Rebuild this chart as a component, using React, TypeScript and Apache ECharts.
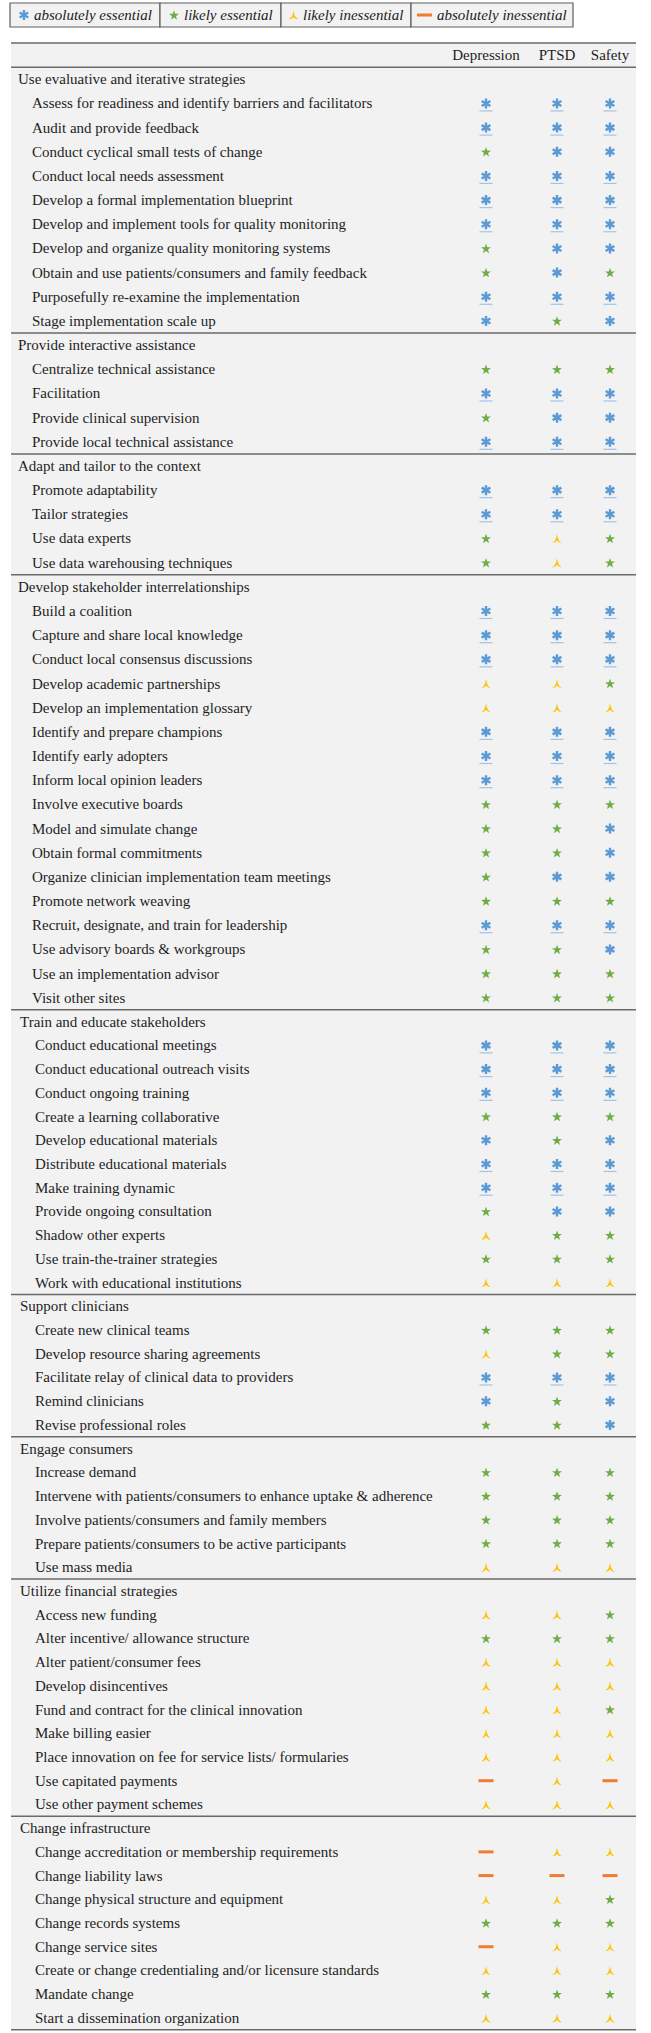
import React, { useEffect, useRef } from "react";
import * as echarts from "echarts";

// ---------- data ----------
const COLUMNS = ["Depression", "PTSD", "Safety"];
const RATING_NAMES = ["absolutely essential", "likely essential", "likely inessential", "absolutely inessential"];
const RATING_CODES = ["A", "L", "I", "X"];

const GROUP_NAMES = [
  "Use evaluative and iterative strategies",
  "Provide interactive assistance",
  "Adapt and tailor to the context",
  "Develop stakeholder interrelationships",
  "Train and educate stakeholders",
  "Support clinicians",
  "Engage consumers",
  "Utilize financial strategies",
  "Change infrastructure",
];

const evaluativeStrategies = [
  "Assess for readiness and identify barriers and facilitators",
  "Audit and provide feedback",
  "Conduct cyclical small tests of change",
  "Conduct local needs assessment",
  "Develop a formal implementation blueprint",
  "Develop and implement tools for quality monitoring",
  "Develop and organize quality monitoring systems",
  "Obtain and use patients/consumers and family feedback",
  "Purposefully re-examine the implementation",
  "Stage implementation scale up",
];
const evaluativeRatings = ["AAA", "AAA", "LAA", "AAA", "AAA", "AAA", "LAA", "LAL", "AAA", "ALA"];

const interactiveStrategies = [
  "Centralize technical assistance",
  "Facilitation",
  "Provide clinical supervision",
  "Provide local technical assistance",
];
const interactiveRatings = ["LLL", "AAA", "LAA", "AAA"];

const adaptStrategies = [
  "Promote adaptability",
  "Tailor strategies",
  "Use data experts",
  "Use data warehousing techniques",
];
const adaptRatings = ["AAA", "AAA", "LIL", "LIL"];

const stakeholderStrategies = [
  "Build a coalition",
  "Capture and share local knowledge",
  "Conduct local consensus discussions",
  "Develop academic partnerships",
  "Develop an implementation glossary",
  "Identify and prepare champions",
  "Identify early adopters",
  "Inform local opinion leaders",
  "Involve executive boards",
  "Model and simulate change",
  "Obtain formal commitments",
  "Organize clinician implementation team meetings",
  "Promote network weaving",
  "Recruit, designate, and train for leadership",
  "Use advisory boards & workgroups",
  "Use an implementation advisor",
  "Visit other sites",
];
const stakeholderRatings = [
  "AAA", "AAA", "AAA", "IIL", "III", "AAA", "AAA", "AAA", "LLL",
  "LLA", "LLA", "LAA", "LLL", "AAA", "LLA", "LLL", "LLL",
];

const trainStrategies = [
  "Conduct educational meetings",
  "Conduct educational outreach visits",
  "Conduct ongoing training",
  "Create a learning collaborative",
  "Develop educational materials",
  "Distribute educational materials",
  "Make training dynamic",
  "Provide ongoing consultation",
  "Shadow other experts",
  "Use train-the-trainer strategies",
  "Work with educational institutions",
];
const trainRatings = ["AAA", "AAA", "AAA", "LLL", "ALA", "AAA", "AAA", "LAA", "ILL", "LLL", "III"];

const supportStrategies = [
  "Create new clinical teams",
  "Develop resource sharing agreements",
  "Facilitate relay of clinical data to providers",
  "Remind clinicians",
  "Revise professional roles",
];
const supportRatings = ["LLL", "ILL", "AAA", "ALA", "LLA"];

const consumerStrategies = [
  "Increase demand",
  "Intervene with patients/consumers to enhance uptake & adherence",
  "Involve patients/consumers and family members",
  "Prepare patients/consumers to be active participants",
  "Use mass media",
];
const consumerRatings = ["LLL", "LLL", "LLL", "LLL", "III"];

const financialStrategies = [
  "Access new funding",
  "Alter incentive/ allowance structure",
  "Alter patient/consumer fees",
  "Develop disincentives",
  "Fund and contract for the clinical innovation",
  "Make billing easier",
  "Place innovation on fee for service lists/ formularies",
  "Use capitated payments",
  "Use other payment schemes",
];
const financialRatings = ["IIL", "LLL", "III", "III", "IIL", "III", "III", "XIX", "III"];

const infrastructureStrategies = [
  "Change accreditation or membership requirements",
  "Change liability laws",
  "Change physical structure and equipment",
  "Change records systems",
  "Change service sites",
  "Create or change credentialing and/or licensure standards",
  "Mandate change",
  "Start a dissemination organization",
];
const infrastructureRatings = ["XII", "XXX", "IIL", "LLL", "XII", "III", "LLL", "III"];

const GROUP_ITEMS = [
  evaluativeStrategies, interactiveStrategies, adaptStrategies, stakeholderStrategies,
  trainStrategies, supportStrategies, consumerStrategies, financialStrategies, infrastructureStrategies,
];
const GROUP_RATINGS = [
  evaluativeRatings, interactiveRatings, adaptRatings, stakeholderRatings,
  trainRatings, supportRatings, consumerRatings, financialRatings, infrastructureRatings,
];

// ---------- layout / style ----------
const W = 651;
const H = 2033;
const TABLE_LEFT = 11;
const TABLE_RIGHT = 636;
const COLUMN_X = [486, 557, 610];
const SECTION_GROUPS = [[0, 1, 2, 3], [4, 5, 6, 7, 8]];
const SECTION_TOP = [43, 1009.8];
const SECTION_PITCH = [24.17, 23.72];
const GROUP_INDENT = [7, 9];
const ITEM_INDENT = [21, 24];
const LEGEND_CELLS = [[10, 160], [160, 281], [281, 411], [411, 573]];
const LEGEND_ICON_LEFT = [19, 169, 289, 417];
const SERIF = '"Liberation Serif", "Times New Roman", serif';
const COLORS = ["#5b9bd5", "#70ad47", "#ffc000", "#ed7d31"];
const RULE = "#6a6a6a";

const SYMBOLS = [
  "path://M-1.2,-5L1.2,-5L1.2,5L-1.2,5Z M3.73,-3.54L4.93,-1.46L-3.73,3.54L-4.93,1.46Z M4.93,1.46L3.73,3.54L-4.93,-1.46L-3.73,-3.54Z",
  "path://M0,-5L1.18,-1.62L4.76,-1.55L1.9,0.62L2.94,4.05L0,2L-2.94,4.05L-1.9,0.62L-4.76,-1.55L-1.18,-1.62Z",
  "path://M0,-5L0.9,-1Q1.6,2.2 5,4.2Q2.2,4.6 0,1.8Q-2.2,4.6 -5,4.2Q-1.6,2.2 -0.9,-1Z",
  "rect",
];
const SYMBOL_SIZES: any[] = [[10, 10], [10, 9.5], [9, 9], [15, 3]];

type Row = { kind: "header" | "group" | "item"; text: string; ratings?: string };

function buildSection(s: number): Row[] {
  const rows: Row[] = [];
  if (s === 0) rows.push({ kind: "header", text: "" });
  SECTION_GROUPS[s].forEach((g) => {
    rows.push({ kind: "group", text: GROUP_NAMES[g] });
    GROUP_ITEMS[g].forEach((name, k) => rows.push({ kind: "item", text: name, ratings: GROUP_RATINGS[g][k] }));
  });
  return rows;
}

function buildOption() {
  const sections = [buildSection(0), buildSection(1)];
  const grid: any[] = [];
  const xAxis: any[] = [];
  const yAxis: any[] = [];
  const series: any[] = [];

  sections.forEach((rows, s) => {
    grid.push({
      left: TABLE_LEFT,
      width: TABLE_RIGHT - TABLE_LEFT,
      top: SECTION_TOP[s],
      height: rows.length * SECTION_PITCH[s],
      show: true,
      backgroundColor: "#f2f2f2",
      borderWidth: 0,
    });
    xAxis.push({ type: "value", gridIndex: s, min: TABLE_LEFT, max: TABLE_RIGHT, show: false });
    yAxis.push({
      type: "category",
      gridIndex: s,
      inverse: true,
      data: rows.map((r, i) => `${s}-${i}`),
      show: false,
    });

    const isLastSection = s === sections.length - 1;
    series.push({
      type: "custom",
      xAxisIndex: s,
      yAxisIndex: s,
      silent: true,
      z: 1,
      data: rows.map((_, i) => [TABLE_LEFT, i]),
      encode: { x: 0, y: 1 },
      renderItem: (params: any, api: any) => {
        const i = api.value(1);
        const row = rows[i];
        const cs = params.coordSys;
        const yc = api.coord([TABLE_LEFT, i])[1];
        const band = api.size([0, 1])[1];
        const children: any[] = [];
        const rule = (y: number) => ({
          type: "line",
          shape: { x1: cs.x, y1: y, x2: cs.x + cs.width, y2: y },
          style: { stroke: RULE, lineWidth: 1.5 },
        });
        if (row.kind === "header") {
          children.push(rule(yc - band / 2));
          COLUMNS.forEach((c, ci) => {
            children.push({
              type: "text",
              x: api.coord([COLUMN_X[ci], i])[0],
              y: yc,
              style: { text: c, fontSize: 15, fontFamily: SERIF, fill: "#1e1e1e", align: "center", verticalAlign: "middle" },
            });
          });
        } else if (row.kind === "group") {
          children.push(rule(yc - band / 2));
          children.push({
            type: "text",
            x: cs.x + GROUP_INDENT[s],
            y: yc,
            style: { text: row.text, fontSize: 15, fontFamily: SERIF, fill: "#1e1e1e", align: "left", verticalAlign: "middle" },
          });
        } else {
          children.push({
            type: "text",
            x: cs.x + ITEM_INDENT[s],
            y: yc,
            style: { text: row.text, fontSize: 15, fontFamily: SERIF, fill: "#1e1e1e", align: "left", verticalAlign: "middle" },
          });
        }
        if (isLastSection && i === rows.length - 1) children.push(rule(yc + band / 2));
        return { type: "group", children };
      },
    });

    RATING_CODES.forEach((code, k) => {
      const data: any[] = [];
      rows.forEach((r, i) => {
        if (r.kind !== "item" || !r.ratings) return;
        for (let c = 0; c < COLUMNS.length; c++) if (r.ratings[c] === code) data.push([COLUMN_X[c], i]);
      });
      series.push({
        type: "scatter",
        name: RATING_NAMES[k],
        xAxisIndex: s,
        yAxisIndex: s,
        symbol: SYMBOLS[k],
        symbolSize: SYMBOL_SIZES[k],
        itemStyle: { color: COLORS[k], opacity: 1 },
        z: 3,
        silent: true,
        data,
      });
    });

    // underline marks rows rated "absolutely essential" in all three columns
    const under: any[] = [];
    rows.forEach((r, i) => {
      if (r.kind === "item" && r.ratings === "AAA") for (let c = 0; c < COLUMNS.length; c++) under.push([COLUMN_X[c], i]);
    });
    series.push({
      type: "scatter",
      name: "consensus",
      xAxisIndex: s,
      yAxisIndex: s,
      symbol: "rect",
      symbolSize: [13, 1.2],
      symbolOffset: [0, 7.5],
      itemStyle: { color: "#8db8e3" },
      z: 2,
      silent: true,
      data: under,
    });
  });

  const legend = RATING_NAMES.map((name, k) => ({
    data: [name],
    left: LEGEND_ICON_LEFT[k],
    top: 7,
    padding: 0,
    itemWidth: SYMBOL_SIZES[k][0],
    itemHeight: SYMBOL_SIZES[k][1],
    itemGap: 0,
    textStyle: { fontFamily: SERIF, fontStyle: "italic", fontSize: 15, color: "#222", lineHeight: 16 },
  }));

  const graphic = {
    elements: LEGEND_CELLS.map(([x0, x1]) => ({
      type: "rect",
      z: 0,
      silent: true,
      shape: { x: x0, y: 3, width: x1 - x0, height: 24 },
      style: { fill: "#f2f2f2", stroke: "#5e5e5e", lineWidth: 1.2 },
    })),
  };

  return { animation: false, backgroundColor: "#ffffff", grid, xAxis, yAxis, series, legend, graphic };
}

export default function App() {
  const ref = useRef<HTMLDivElement>(null);
  useEffect(() => {
    document.body.style.margin = "0";
    document.body.style.overflow = "hidden";
    const chart = echarts.init(ref.current as HTMLDivElement, null, { renderer: "svg" });
    chart.setOption(buildOption() as any);
    return () => chart.dispose();
  }, []);
  return <div ref={ref} style={{ width: W, height: H }} />;
}
